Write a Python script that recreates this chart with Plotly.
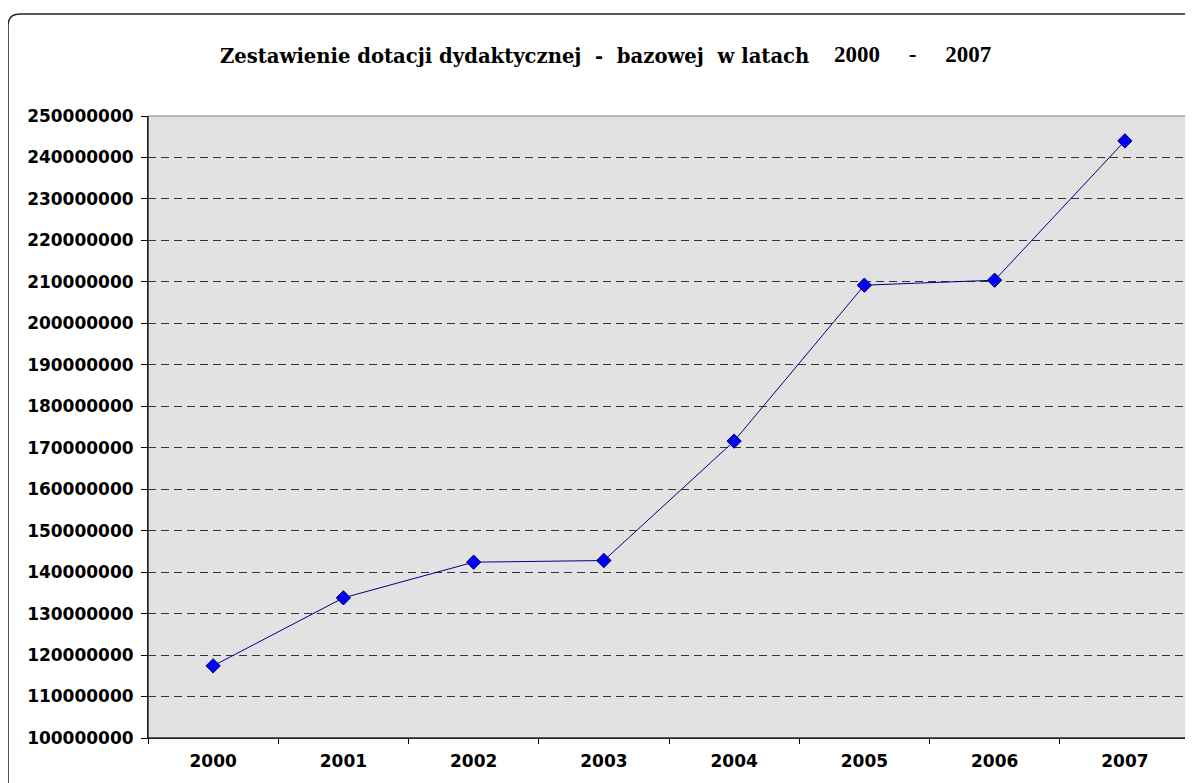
import plotly.graph_objects as go

years = ["2000", "2001", "2002", "2003", "2004", "2005", "2006", "2007"]
values = [117400000, 133800000, 142400000, 142800000, 171600000, 209200000, 210400000, 244000000]
y_ticks = list(range(100000000, 250000001, 10000000))
title_main = "Zestawienie dotacji dydaktycznej  -  bazowej  w latach"
title_years = "2000     -     2007"

# page has an 8px body margin, so the figure starts at (8, 8)
W, H = 1185, 775
ML, MR, MT, MB = 140, 3, 108, 45
PW, PH = W - ML - MR, H - MT - MB


def px(x):
    return (x - ML) / PW


def py(y):
    return (H - MB - y) / PH


fig = go.Figure()
fig.add_trace(go.Scatter(
    x=years, y=values, mode="lines+markers",
    line=dict(color="#000080", width=1),
    marker=dict(symbol="diamond", size=11, color="#0000FF",
                line=dict(color="#000060", width=1)),
    showlegend=False, hoverinfo="x+y",
))

# rounded outer border
L, T, R, B, r = 0, 6, 1200, 790, 12
path = (f"M {px(L)},{py(B - r)} L {px(L)},{py(T + r)} "
        f"Q {px(L)},{py(T)} {px(L + r)},{py(T)} "
        f"L {px(R - r)},{py(T)} Q {px(R)},{py(T)} {px(R)},{py(T + r)} "
        f"L {px(R)},{py(B - r)} Q {px(R)},{py(B)} {px(R - r)},{py(B)} "
        f"L {px(L + r)},{py(B)} Q {px(L)},{py(B)} {px(L)},{py(B - r)} Z")
fig.add_shape(type="path", xref="paper", yref="paper", path=path,
              line=dict(color="#222222", width=1.5), layer="below")

nb = "\u00a0"
fig.add_annotation(text=title_main.replace(" ", nb), xref="paper", yref="paper",
                   x=px(210), y=py(48), xanchor="left", yanchor="middle",
                   showarrow=False,
                   font=dict(family="DejaVu Serif", size=19.6, color="black", weight="bold"))
fig.add_annotation(text=title_years.replace(" ", nb), xref="paper", yref="paper",
                   x=px(824), y=py(47), xanchor="left", yanchor="middle",
                   showarrow=False,
                   font=dict(family="Liberation Serif", size=23, color="black", weight="bold"))

fig.update_layout(
    width=W, height=H,
    margin=dict(l=ML, r=MR, t=MT, b=MB),
    paper_bgcolor="white",
    plot_bgcolor="#E2E2E2",
    xaxis=dict(type="category", tickson="boundaries", ticks="outside", ticklen=5,
               tickcolor="black", showline=True, linecolor="black", linewidth=1,
               mirror=False, showgrid=False, ticklabelstandoff=8,
               tickfont=dict(family="DejaVu Sans", size=17, color="black", weight="bold"),
               range=[-0.5, 7.5]),
    yaxis=dict(range=[100000000, 250000000], tickvals=y_ticks,
               ticktext=[str(v) for v in y_ticks], ticks="outside", ticklen=6,
               tickcolor="black", showline=True, linecolor="black", linewidth=1,
               showgrid=True, gridcolor="#333333", gridwidth=1, griddash="8px,5px",
               zeroline=False, ticklabelstandoff=4,
               tickfont=dict(family="DejaVu Sans", size=17, color="black", weight="bold")),
)
fig.add_shape(type="rect", xref="paper", yref="paper", x0=0, y0=0, x1=1, y1=1,
              line=dict(color="#808080", width=1), layer="above")
fig.add_shape(type="line", xref="paper", yref="paper", x0=0, y0=0, x1=1, y1=0,
              line=dict(color="black", width=1), layer="above")
fig.add_shape(type="line", xref="paper", yref="paper", x0=0, y0=0, x1=0, y1=1,
              line=dict(color="black", width=1), layer="above")

fig.write_html("out.html")
